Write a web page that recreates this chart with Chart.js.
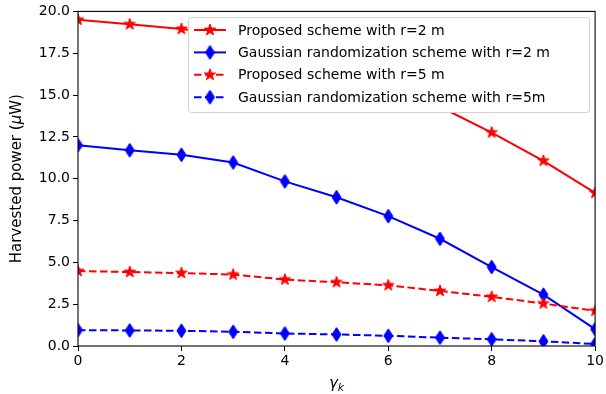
<!DOCTYPE html>
<html>
<head>
<meta charset="utf-8">
<script src="https://cdn.jsdelivr.net/npm/chart.js@4"></script>
<style>
  html, body { margin: 0; padding: 0; background: #fff; }
</style>
</head>
<body>
<canvas id="myChart" width="606" height="394"></canvas>
<script>
// Harvested power vs gamma_k, two schemes at r=2 m and r=5 m

const gammaK = [0, 1, 2, 3, 4, 5, 6, 7, 8, 9, 10];
const proposedR2 = [19.5, 19.23, 18.95, 18.6, 18.1, 17.3, 16.1, 14.3, 12.76, 11.07, 9.15];
const gaussianR2 = [12.0, 11.7, 11.43, 10.97, 9.84, 8.89, 7.76, 6.41, 4.72, 3.07, 1.01];
const proposedR5 = [4.48, 4.42, 4.36, 4.27, 3.97, 3.81, 3.63, 3.29, 2.94, 2.54, 2.1];
const gaussianR5 = [0.95, 0.93, 0.91, 0.85, 0.75, 0.69, 0.61, 0.5, 0.4, 0.28, 0.12];
const seriesLabels = [
  "Proposed scheme with r=2 m",
  "Gaussian randomization scheme with r=2 m",
  "Proposed scheme with r=5 m",
  "Gaussian randomization scheme with r=5m",
];

const ctx = document.querySelector("#myChart");
const FONT = "'DejaVu Sans', sans-serif";

// filled five point star, like matplotlib '*'
function makeStar(color, r) {
  const c = document.createElement("canvas");
  const s = Math.ceil(r * 2 + 2);
  c.width = s;
  c.height = s;
  const g = c.getContext("2d");
  g.translate(s / 2, s / 2);
  g.beginPath();
  for (let i = 0; i < 10; i++) {
    const rad = i % 2 === 0 ? r : r * 0.4;
    const a = -Math.PI / 2 + (i * Math.PI) / 5;
    const px = rad * Math.cos(a);
    const py = rad * Math.sin(a);
    if (i === 0) g.moveTo(px, py);
    else g.lineTo(px, py);
  }
  g.closePath();
  g.fillStyle = color;
  g.fill();
  g.strokeStyle = color;
  g.lineWidth = 1;
  g.stroke();
  return c;
}

// thin diamond, like matplotlib 'd'
function makeDiamond(color, w, h) {
  const c = document.createElement("canvas");
  c.width = Math.ceil(w + 2);
  c.height = Math.ceil(h + 2);
  const g = c.getContext("2d");
  const cx = c.width / 2;
  const cy = c.height / 2;
  g.beginPath();
  g.moveTo(cx, cy - h / 2);
  g.lineTo(cx + w / 2, cy);
  g.lineTo(cx, cy + h / 2);
  g.lineTo(cx - w / 2, cy);
  g.closePath();
  g.fillStyle = color;
  g.fill();
  g.strokeStyle = color;
  g.lineWidth = 1;
  g.stroke();
  return c;
}

const redStar = makeStar("#ff0000", 6);
const blueDiamond = makeDiamond("#0000ff", 9, 14);

function toPoints(values) {
  return gammaK.map((x, i) => ({ x: x, y: values[i] }));
}

const dashed = [7.5, 3.5];

const datasets = [
  {
    label: seriesLabels[0],
    data: toPoints(proposedR2),
    borderColor: "#ff0000",
    backgroundColor: "#ff0000",
    borderDash: [],
    pointStyle: redStar,
    order: 4,
  },
  {
    label: seriesLabels[1],
    data: toPoints(gaussianR2),
    borderColor: "#0000ff",
    backgroundColor: "#0000ff",
    borderDash: [],
    pointStyle: blueDiamond,
    order: 3,
  },
  {
    label: seriesLabels[2],
    data: toPoints(proposedR5),
    borderColor: "#ff0000",
    backgroundColor: "#ff0000",
    borderDash: dashed,
    pointStyle: redStar,
    order: 2,
  },
  {
    label: seriesLabels[3],
    data: toPoints(gaussianR5),
    borderColor: "#0000ff",
    backgroundColor: "#0000ff",
    borderDash: dashed,
    pointStyle: blueDiamond,
    order: 1,
  },
];
datasets.forEach((d) => {
  d.borderWidth = 2;
  d.pointRadius = 6;
  d.tension = 0;
  d.fill = false;
  d.clip = 0;
});

// black frame round the plot area, and the axis titles
const frame = {
  id: "frame",
  afterDatasetsDraw(chart) {
    const a = chart.chartArea;
    const g = chart.ctx;
    g.save();
    g.strokeStyle = "#000";
    g.lineWidth = 1.1;
    g.strokeRect(a.left, a.top, a.right - a.left, a.bottom - a.top);

    g.fillStyle = "#000";
    g.textBaseline = "alphabetic";
    // x title: gamma with subscript k
    const cx = (a.left + a.right) / 2;
    g.font = "italic 15px " + FONT;
    const wg = g.measureText("γ").width;
    g.font = "italic 11px " + FONT;
    const wk = g.measureText("k").width;
    const sx = cx - (wg + wk) / 2;
    g.font = "italic 15px " + FONT;
    g.fillText("γ", sx, 388);
    g.font = "italic 11px " + FONT;
    g.fillText("k", sx + wg, 391);

    // y title, rotated, with italic mu
    const parts = [
      ["Harvested power (", ""],
      ["μ", "italic "],
      ["W)", ""],
    ];
    let total = 0;
    parts.forEach((p) => {
      g.font = p[1] + "15px " + FONT;
      total += g.measureText(p[0]).width;
    });
    g.translate(21, (a.top + a.bottom) / 2);
    g.rotate(-Math.PI / 2);
    let px = -total / 2;
    parts.forEach((p) => {
      g.font = p[1] + "15px " + FONT;
      g.fillText(p[0], px, 0);
      px += g.measureText(p[0]).width;
    });
    g.restore();
  },
};

// legend box inside the plot, upper right
const innerLegend = {
  id: "innerLegend",
  afterDraw(chart) {
    const g = chart.ctx;
    const x0 = 188, y0 = 17, w = 401, h = 95;
    g.save();
    g.beginPath();
    g.roundRect(x0 + 0.5, y0 + 0.5, w, h, 3);
    g.fillStyle = "#ffffff";
    g.fill();
    g.strokeStyle = "#d0d0d0";
    g.lineWidth = 1;
    g.stroke();
    g.font = "14px " + FONT;
    g.textBaseline = "middle";
    g.fillStyle = "#000";
    chart.data.datasets.forEach((d, i) => {
      const cy = y0 + 13 + i * 22.4;
      g.beginPath();
      g.setLineDash(d.borderDash);
      g.strokeStyle = d.borderColor;
      g.lineWidth = 2;
      g.moveTo(194, cy);
      g.lineTo(226, cy);
      g.stroke();
      g.setLineDash([]);
      const m = d.pointStyle;
      g.drawImage(m, 210 - m.width / 2, cy - m.height / 2);
      g.fillText(d.label, 238, cy + 1);
    });
    g.restore();
  },
};

const config = {
  type: "line",
  data: { datasets: datasets },
  options: {
    responsive: false,
    animation: false,
    events: [],
    layout: { padding: { top: 10, right: 9, left: 0, bottom: 0 } },
    plugins: {
      legend: { display: false },
      tooltip: { enabled: false },
    },
    scales: {
      x: {
        type: "linear",
        min: 0,
        max: 10,
        afterFit: (s) => { s.height = 48; },
        ticks: { stepSize: 2, color: "#000", font: { family: FONT, size: 14 }, padding: 2 },
        grid: { drawOnChartArea: false, drawTicks: true, tickLength: 5, color: "#000" },
        border: { display: false },
      },
      y: {
        type: "linear",
        min: 0,
        max: 20,
        afterFit: (s) => { s.width = 78; },
        ticks: {
          stepSize: 2.5,
          color: "#000",
          font: { family: FONT, size: 14 },
          padding: 3,
          callback: (v) => v.toFixed(1),
        },
        grid: { drawOnChartArea: false, drawTicks: true, tickLength: 5, color: "#000" },
        border: { display: false },
      },
    },
  },
  plugins: [frame, innerLegend],
};

const chart = new Chart(ctx, config);
</script>
</body>
</html>
